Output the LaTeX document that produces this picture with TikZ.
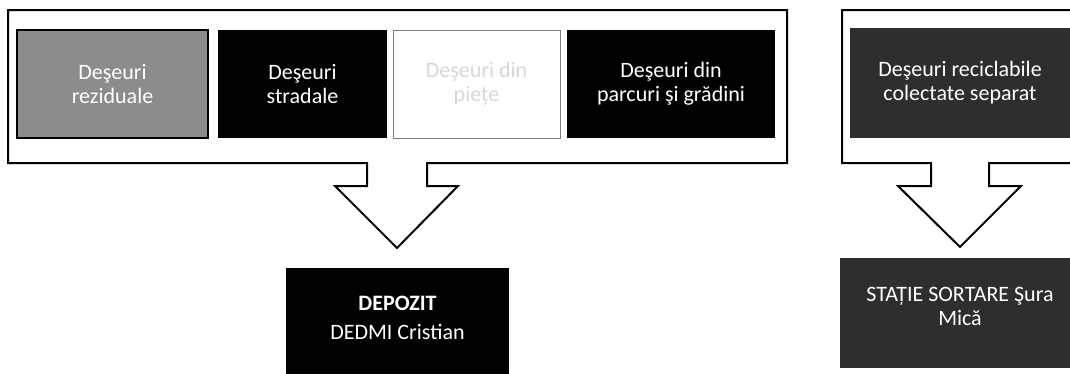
\documentclass[tikz,border=0pt]{standalone}
\usepackage{fontspec}
\setmainfont{Carlito}
\definecolor{midgray}{HTML}{8C8C8C}
\definecolor{darkfill}{HTML}{2E2E2E}
\definecolor{faint}{HTML}{D8D8D8}
\begin{document}
\begin{tikzpicture}[x=1pt,y=-1pt,
  wbox/.style={rectangle, inner sep=0pt, outer sep=0pt, align=center,
    font=\fontsize{22}{24}\selectfont, text=white},
  callout/.style={draw=black, line width=2pt, fill=white, line join=miter}]
\useasboundingbox (0,0) rectangle (1070,373);
% left callout
\draw[callout] (8,10) -- (787,10) -- (787,163) -- (427,163) -- (427,186) -- (458,186)
  -- (397,248) -- (335,186) -- (367,186) -- (367,163) -- (8,163) -- cycle;
% right callout
\draw[callout] (842,10) -- (1082,10) -- (1082,163) -- (989,163) -- (989,186) -- (1021,186)
  -- (960,247) -- (898,186) -- (931,186) -- (931,163) -- (842,163) -- cycle;
% inner boxes
\node[wbox, fill=midgray, draw=black, line width=1.5pt, minimum width=191, minimum height=108]
  (rez) at (112.5,84) {Deşeuri\\reziduale};
\node[wbox, fill=black, minimum width=169, minimum height=108]
  (strad) at (302.5,84) {Deşeuri\\stradale};
\node[wbox, fill=white, draw=gray, line width=1pt, text=faint, minimum width=167, minimum height=108]
  (piete) at (476.5,84) {Deşeuri din\\piețe};
\node[wbox, fill=black, minimum width=208, minimum height=108]
  (parc) at (671,84) {Deşeuri din\\parcuri şi grădini};
\node[wbox, fill=darkfill, minimum width=220, minimum height=110]
  (recic) at (960,83) {Deşeuri reciclabile\\colectate separat};
% destination boxes
\node[wbox, fill=black, minimum width=223, minimum height=112] (dep) at (397.5,324) {};
\node[wbox, font=\fontsize{22}{29}\selectfont] (deptext) at (397.5,317.5) {\textbf{DEPOZIT}\\DEDMI Cristian};
\node[wbox, fill=darkfill, minimum width=240, minimum height=110] (stat) at (960,313) {};
\node[wbox] (stattext) at (960,306) {STAȚIE SORTARE Şura\\Mică};
\end{tikzpicture}
\end{document}
